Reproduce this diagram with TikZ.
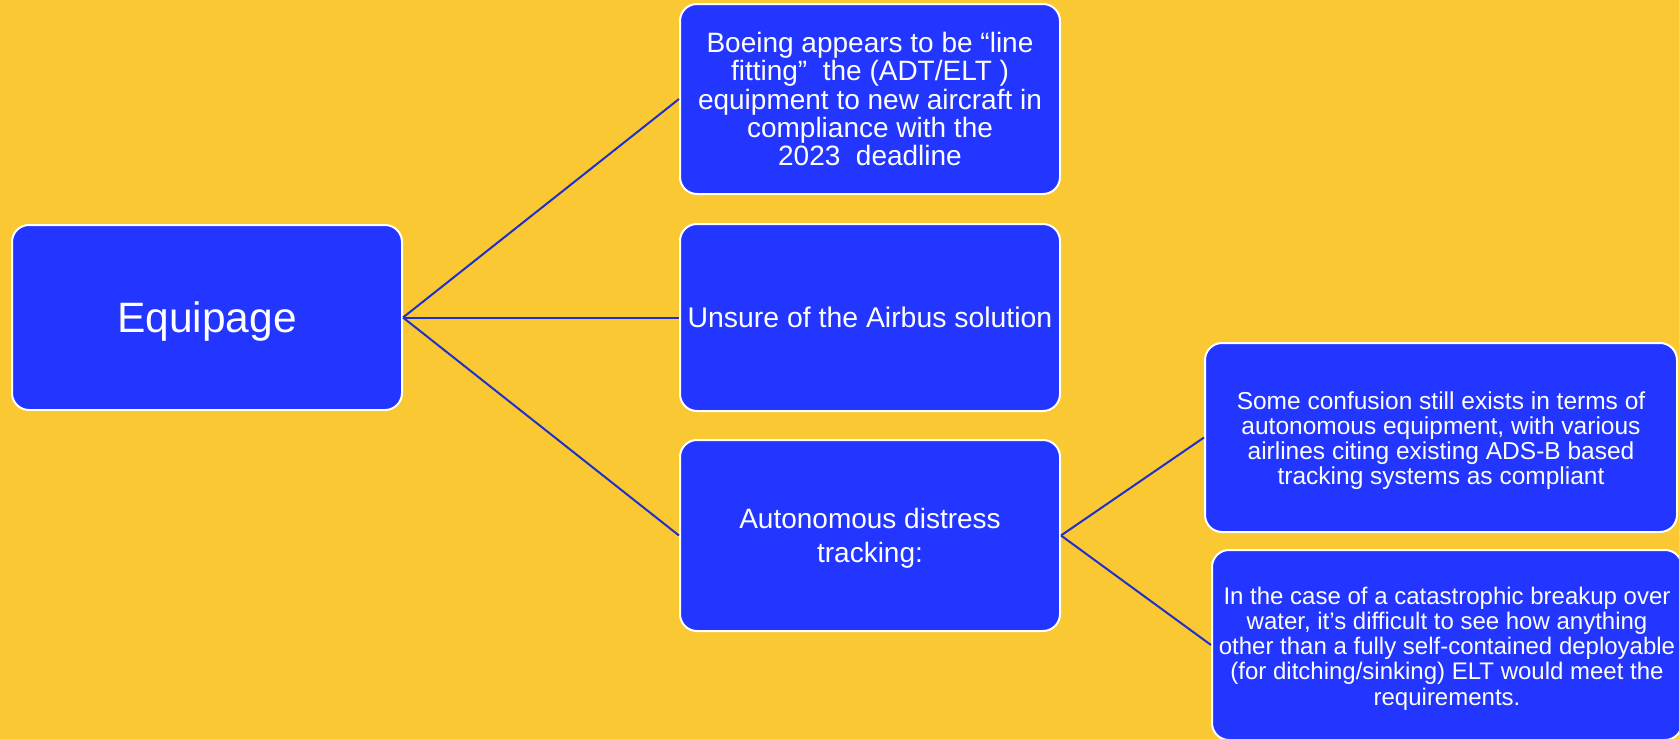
\documentclass[tikz,border=0pt]{standalone}
\usepackage{fontspec}
\setmainfont{Liberation Sans}
\definecolor{bgyellow}{HTML}{F9C833}
\definecolor{boxblue}{HTML}{2236FF}
\definecolor{linkblue}{HTML}{2030C8}
\tikzset{
  card/.style={draw=white, line width=2pt, fill=boxblue, rounded corners=17pt,
    inner sep=0pt, anchor=center},
  cardtext/.style={text=white, align=center, inner sep=0pt, anchor=center},
  link/.style={draw=linkblue, line width=2pt}
}
\begin{document}
\begin{tikzpicture}[x=1pt,y=-1pt]
\useasboundingbox (0,0) rectangle (1679,739);
\fill[bgyellow] (0,0) rectangle (1679,739);
\begin{scope}
\clip (0,0) rectangle (1679,739);
% boxes
\node[card, minimum width=390pt, minimum height=185pt] (eq) at (207,317.5) {};
\node[card, minimum width=380pt, minimum height=190pt] (b1) at (870,99) {};
\node[card, minimum width=380pt, minimum height=187pt] (b2) at (870,317.5) {};
\node[card, minimum width=380pt, minimum height=191pt] (b3) at (870,535.5) {};
\node[card, minimum width=472pt, minimum height=189pt] (b4) at (1441,437.5) {};
\node[card, minimum width=470pt, minimum height=190pt] (b5) at (1447,645) {};
% texts
\node[cardtext, font=\fontsize{42.5}{48}\selectfont] (eqt) at ([yshift=-4.5pt]eq.center) {Equipage};
\node[cardtext, font=\fontsize{28}{28.1}\selectfont] (b1t) at (b1.center)
  {Boeing appears to be “line\\fitting”\ \ the (ADT/ELT )\\equipment to new aircraft in\\compliance with the\\2023\ \ deadline};
\node[cardtext, font=\fontsize{28.4}{30}\selectfont] (b2t) at (b2.center)
  {Unsure of the Airbus solution};
\node[cardtext, font=\fontsize{28}{34}\selectfont] (b3t) at ([yshift=-3pt]b3.center)
  {Autonomous distress\\tracking:};
\node[cardtext, font=\fontsize{24.5}{25}\selectfont] (b4t) at ([yshift=-3.5pt]b4.center)
  {Some confusion still exists in terms of\\autonomous equipment, with various\\airlines citing existing ADS-B based\\tracking systems as compliant};
\node[cardtext, font=\fontsize{24}{25.2}\selectfont] (b5t) at ([yshift=-3.5pt]b5.center)
  {In the case of a catastrophic breakup over\\water, it’s difficult to see how anything\\other than a fully self-contained deployable\\(for ditching/sinking) ELT would meet the\\requirements.};
% connectors
\draw[link] (eq.east) -- (b1.west);
\draw[link] (eq.east) -- (b2.west);
\draw[link] (eq.east) -- (b3.west);
\draw[link] (b3.east) -- (b4.west);
\draw[link] (b3.east) -- (b5.west);
\end{scope}
\end{tikzpicture}
\end{document}
